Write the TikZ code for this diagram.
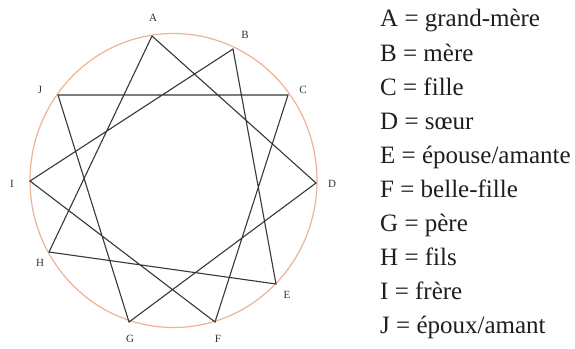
\documentclass[tikz,border=0pt]{standalone}
\usepackage{fontspec}
\setmainfont{Liberation Serif}
\begin{document}
\begin{tikzpicture}[x=1pt,y=-1pt,
  ring/.style={draw={rgb,255:red,238;green,178;blue,150}, line width=1.2pt},
  edge/.style={draw={rgb,255:red,55;green,55;blue,55}, line width=1.1pt},
  lbl/.style={font=\fontsize{11}{12}\selectfont, text={rgb,255:red,50;green,50;blue,50}, inner sep=0pt},
  leg/.style={font=\fontsize{25}{28}\selectfont, anchor=base west, inner sep=0pt, text={rgb,255:red,30;green,30;blue,30}}]
\useasboundingbox (0,0) rectangle (575,348);
\draw[ring] (173.5,180.5) ellipse [x radius=143.5, y radius=147];
% vertices
\coordinate (A) at (152,36);
\coordinate (B) at (233,49);
\coordinate (C) at (288,95);
\coordinate (D) at (316,183);
\coordinate (E) at (276,284);
\coordinate (F) at (215,322);
\coordinate (G) at (129,322);
\coordinate (H) at (49,252);
\coordinate (I) at (30,181);
\coordinate (J) at (58,95);
\draw[edge, line join=miter] (A) -- (D) -- (G) -- (J) -- (C) -- (F) -- (I) -- (B) -- (E) -- (H) -- cycle;
% labels
\node[lbl] (lA) at (153,18) {A};
\node[lbl] (lB) at (245,35) {B};
\node[lbl] (lC) at (303,90) {C};
\node[lbl] (lD) at (332,184) {D};
\node[lbl] (lE) at (287,295) {E};
\node[lbl] (lF) at (218,339) {F};
\node[lbl] (lG) at (130,339) {G};
\node[lbl] (lH) at (40,263) {H};
\node[lbl] (lI) at (12,184) {I};
\node[lbl] (lJ) at (40,90) {J};
% legend
\node[leg] (k1) at (380,27) {A = grand-mère};
\node[leg] (k2) at (380,61.1) {B = mère};
\node[leg] (k3) at (380,95.2) {C = fille};
\node[leg] (k4) at (380,129.3) {D = sœur};
\node[leg] (k5) at (380,163.4) {E = épouse/amante};
\node[leg] (k6) at (380,197.5) {F = belle-fille};
\node[leg] (k7) at (380,231.6) {G = père};
\node[leg] (k8) at (380,265.7) {H = fils};
\node[leg] (k9) at (380,299.8) {I = frère};
\node[leg] (k10) at (380,333.9) {J = époux/amant};
\end{tikzpicture}
\end{document}
